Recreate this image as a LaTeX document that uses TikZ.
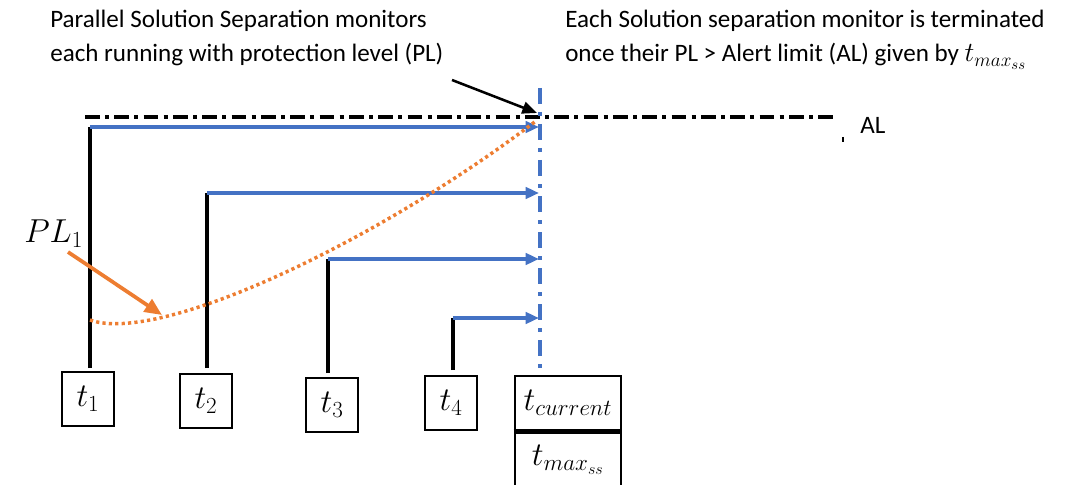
\documentclass[tikz,border=0pt]{standalone}
\usepackage{fontspec}
\setmainfont{Carlito}
\usetikzlibrary{arrows.meta}
\definecolor{oblue}{HTML}{4472C4}
\definecolor{oorange}{HTML}{ED7D31}
\begin{document}
\begin{tikzpicture}[x=0.75pt,y=-0.75pt,
  txt/.style={font=\fontsize{18.8}{22}\selectfont, inner sep=0, anchor=base west},
  tbox/.style={draw, line width=1.7pt, minimum width=39pt, minimum height=40pt, inner sep=0, font=\fontsize{23.5}{27}\selectfont},
  wbox/.style={tbox, minimum width=80pt, minimum height=41pt},
  stem/.style={line width=2.8pt},
  mon/.style={oblue, line width=2.6pt, -{Triangle[length=10pt,width=8.5pt]}},
  alline/.style={line width=2.8pt, dash pattern=on 11pt off 4pt on 3pt off 4pt},
  curline/.style={oblue, line width=2.6pt, dash pattern=on 12pt off 6pt on 3pt off 6pt},
  plcurve/.style={oorange, line width=2.6pt, dash pattern=on 2.4pt off 2.4pt},
]
\useasboundingbox (0,0) rectangle (1065,485);

% texts
\node[txt] (l1) at (50,28) {Parallel Solution Separation monitors};
\node[txt] (l2) at (50,62) {each running with protection level (PL)};
\node[txt] (r1) at (565,28) {Each Solution separation monitor is terminated};
\node[txt] (r2) at (565,62) {once their PL > Alert limit (AL) given by {\fontsize{22.5}{26}\selectfont$t_{max_{ss}}$}};
\node[txt] (al) at (860,133) {AL};
\node[anchor=base west, inner sep=0, font=\fontsize{23.5}{27}\selectfont] (pl) at (24,243) {$PL_1$};

% boxes
\node[tbox] (t1) at (88,399) {$t_1$};
\node[tbox] (t2) at (206,401) {$t_2$};
\node[tbox] (t3) at (332,405) {$t_3$};
\node[tbox] (t4) at (451,403) {$t_4$};
\node[wbox] (tc) at (568,403) {$t_{current}$};
\node[wbox, anchor=north] (tm) at (tc.south) {$t_{max_{ss}}$};
\draw[line width=3pt] (tc.south west) -- (tc.south east);

% coordinates
\coordinate (s1) at (90,127); \coordinate (b1) at (90,368);
\coordinate (s2) at (207,193); \coordinate (b2) at (207,368);
\coordinate (s3) at (328,259); \coordinate (b3) at (328,373);
\coordinate (s4) at (453,318); \coordinate (b4) at (453,370);
\coordinate (e1) at (539,127);
\coordinate (e2) at (539,193);
\coordinate (e3) at (539,259);
\coordinate (e4) at (539,318);
\coordinate (vtop) at (540,88);
\coordinate (al0) at (85,117);
\coordinate (al1) at (834,117);
\coordinate (n0) at (452,80);
\coordinate (n1) at (537,113);
\coordinate (c0) at (90,320);
\coordinate (c1) at (536,121);
\coordinate (p0) at (68,252);
\coordinate (p1) at (162,315);
\coordinate (k0) at (843,137);
\coordinate (k1) at (843,142);

% AL line and current-time line
\draw[alline] (al0) -- (al1);
\draw[curline] (vtop) -- (vtop |- tc.north);
\draw[line width=0.8pt] (k0) -- (k1);

% stems
\draw[stem] (b1) -- (s1);
\draw[stem] (b2) -- (s2);
\draw[stem] (b3) -- (s3);
\draw[stem] (b4) -- (s4);

% monitors
\draw[mon] (s1) -- (e1);
\draw[mon] (s2) -- (e2);
\draw[mon] (s3) -- (e3);
\draw[mon] (s4) -- (e4);

% PL curve
\draw[plcurve] (c0) .. controls (160,345) and (380,240) .. (c1);

% arrows
\draw[line width=1.9pt, -{Triangle[length=11pt,width=9pt]}] (n0) -- (n1);
\draw[oorange, line width=2.8pt, -{Triangle[length=13pt,width=11pt]}] (p0) -- (p1);
\end{tikzpicture}
\end{document}
